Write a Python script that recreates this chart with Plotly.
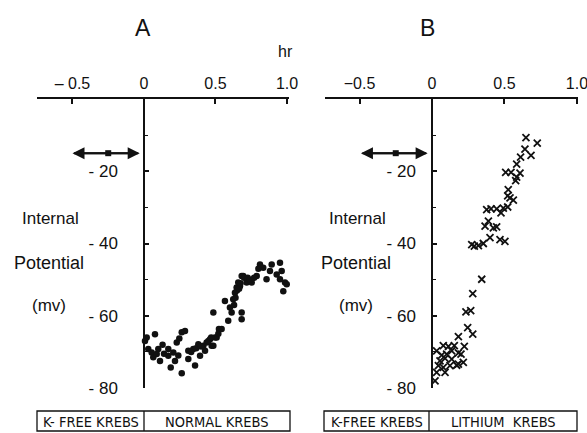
import plotly.graph_objects as go

W, H = 587, 433

# ---------------- data ----------------
a_hr = [0.019, 0.077, 0.007, 0.03, 0.054, 0.065, 0.10, 0.112, 0.089, 0.17, 0.17, 0.187,
        0.205, 0.217, 0.229, 0.247, 0.264, 0.287, 0.264, 0.31, 0.31, 0.345, 0.357, 0.38,
        0.392, 0.415, 0.438, 0.427, 0.462, 0.473, 0.485, 0.508, 0.524, 0.497, 0.52, 0.485,
        0.543, 0.566, 0.589, 0.601, 0.613, 0.624, 0.636, 0.648, 0.671, 0.659, 0.683, 0.694,
        0.683, 0.683, 0.718, 0.753, 0.788, 0.811, 0.834, 0.857, 0.881, 0.893, 0.928, 0.951,
        0.963, 0.951, 0.986, 0.974, 0.998, 0.63, 0.64, 0.65, 0.665, 0.675, 0.70, 0.725,
        0.74, 0.77, 0.80, 0.33, 0.365, 0.40, 0.45, 0.47, 0.14, 0.24, 0.13]
a_mv = [-66.0, -65.1, -67.0, -69.2, -70.2, -71.5, -69.2, -72.5, -70.6, -69.2, -71.1, -74.3,
        -70.2, -72.5, -67.4, -66.3, -64.6, -64.2, -75.9, -69.7, -72.0, -69.2, -73.8, -67.9,
        -71.1, -68.3, -67.4, -69.7, -66.5, -68.3, -59.1, -66.0, -63.7, -66.0, -65.0, -68.3,
        -63.7, -55.9, -61.4, -57.7, -59.1, -55.4, -53.6, -52.2, -51.8, -50.8, -49.0, -49.0,
        -59.1, -61.0, -50.8, -50.8, -49.0, -45.8, -46.7, -49.9, -47.6, -45.8, -48.6, -45.3,
        -47.6, -49.9, -50.8, -53.2, -51.3, -57.0, -55.0, -53.0, -52.5, -51.0, -49.5, -49.5,
        -50.0, -49.5, -47.0, -70.0, -69.0, -68.5, -67.0, -66.0, -70.5, -71.0, -68.0]

b_hr = [0.648, 0.726, 0.641, 0.683, 0.611, 0.584, 0.508, 0.545, 0.607, 0.584, 0.577,
        0.526, 0.522, 0.538, 0.561, 0.522, 0.492, 0.476, 0.446, 0.407, 0.377, 0.389,
        0.366, 0.423, 0.446, 0.40, 0.469, 0.503, 0.354, 0.32, 0.292, 0.274,
        0.343, 0.281, 0.234, 0.267, 0.246, 0.281, 0.182, 0.223, 0.154, 0.113, 0.078,
        0.032, 0.067, 0.101, 0.136, 0.182, 0.20, 0.055, 0.09, 0.136, 0.216, 0.17,
        0.044, 0.078, 0.124, 0.182, 0.032, 0.09, 0.021, 0.062]
b_mv = [-10.7, -12.2, -13.9, -15.6, -16.1, -18.0, -20.3, -20.3, -20.5, -21.6, -22.6,
        -25.1, -26.8, -27.4, -28.0, -29.9, -30.2, -31.5, -30.4, -30.4, -30.6, -33.8,
        -35.2, -35.7, -35.4, -38.4, -38.9, -39.4, -40.0, -40.6, -40.7, -40.3,
        -49.9, -53.9, -58.9, -58.6, -63.3, -65.1, -65.8, -68.5, -68.3, -68.5, -68.3,
        -69.7, -70.9, -70.6, -69.7, -70.3, -70.6, -72.5, -71.8, -72.0, -72.9, -73.7,
        -73.8, -74.3, -73.8, -73.4, -75.7, -75.7, -78.0, -80.3]

# double arrow (K-free period) : start, end, mid (hr) and level (mV)
arrow_a = [-0.50, -0.03, -0.25]
arrow_b = [-0.49, -0.03, -0.25]
arrow_mv = -15

x_ticks = [-0.5, 0, 0.5, 1.0]
x_text_a = ["\u2013 0.5", "0", "0.5", "1.0"]
x_text_b = ["\u22120.5", "0", "0.5", "1.0"]
y_ticks = [-20, -40, -60, -80]
y_text = ["- 20", "- 40", "- 60", "- 80"]

FONT = "Liberation Sans"
NARROW = "DejaVu Sans Condensed, Liberation Sans Narrow, Liberation Sans"
INK = "#111111"


def px(x):
    return x / W


def py(y):
    return 1 - y / H


fig = go.Figure()

fig.add_trace(go.Scatter(x=a_hr, y=a_mv, mode="markers", xaxis="x", yaxis="y",
                         marker=dict(symbol="circle", size=6.5, color=INK),
                         cliponaxis=False, showlegend=False))
fig.add_trace(go.Scatter(x=b_hr, y=b_mv, mode="markers", xaxis="x2", yaxis="y2",
                         marker=dict(symbol="x-thin", size=7, color=INK,
                                     line=dict(width=1.8, color=INK)),
                         cliponaxis=False, showlegend=False))
# arrow mid dots
fig.add_trace(go.Scatter(x=[arrow_a[2]], y=[arrow_mv], mode="markers", xaxis="x", yaxis="y",
                         marker=dict(symbol="square", size=6, color=INK),
                         cliponaxis=False, showlegend=False))
fig.add_trace(go.Scatter(x=[arrow_b[2]], y=[arrow_mv], mode="markers", xaxis="x2", yaxis="y2",
                         marker=dict(symbol="square", size=6, color=INK),
                         cliponaxis=False, showlegend=False))

for xr, yr, arr in (("x", "y", arrow_a), ("x2", "y2", arrow_b)):
    for tip, tail in ((arr[1], arr[0]), (arr[0], arr[1])):
        fig.add_annotation(x=tip, y=arrow_mv, ax=tail, ay=arrow_mv, xref=xr, yref=yr,
                           axref=xr, ayref=yr, text="", showarrow=True, arrowhead=2,
                           arrowsize=1.2, arrowwidth=2, arrowcolor=INK)

ydom = [py(388), py(99)]
common_x = dict(side="top", showline=True, linecolor=INK, linewidth=1.5, ticks="inside",
                ticklen=5, tickwidth=1.5, tickcolor=INK, tickvals=x_ticks, showgrid=False,
                zeroline=False, tickfont=dict(family=FONT, size=16, color=INK),
                ticklabelstandoff=2, automargin=False, ticklabeloverflow="allow")
common_y = dict(range=[-80, 0], domain=ydom, anchor="free", side="left", showline=True,
                linecolor=INK, linewidth=1.5, ticks="inside", ticklen=4, tickwidth=1.5,
                tickcolor=INK, tickvals=y_ticks, ticktext=y_text, showgrid=False,
                zeroline=False, tickfont=dict(family=FONT, size=17, color=INK),
                automargin=False,
                minor=dict(ticks="inside", ticklen=3, tickvals=[-10, -30, -50, -70],
                           tickcolor=INK, tickwidth=1.2))

fig.update_layout(
    width=W, height=H, margin=dict(l=0, r=0, t=0, b=0, autoexpand=False),
    paper_bgcolor="white", plot_bgcolor="white",
    xaxis=dict(domain=[px(37), px(289)], range=[-0.748, 1.014], anchor="y",
               ticktext=x_text_a, **common_x),
    yaxis=dict(position=px(144), ticklabelstandoff=22, **common_y),
    xaxis2=dict(domain=[px(325), px(578)], range=[-0.738, 1.007], anchor="y2",
                ticktext=x_text_b, **common_x),
    yaxis2=dict(position=px(432), ticklabelstandoff=12, **common_y),
)


def label(text, x, y, size=17, xanchor="center", family=FONT):
    fig.add_annotation(text=text, x=px(x), y=py(y), xref="paper", yref="paper",
                       showarrow=False, xanchor=xanchor, yanchor="middle",
                       font=dict(family=family, size=size, color=INK))


label("A", 143, 28, size=23)
label("B", 427, 28, size=23)
label("hr", 285, 52, size=16)
for xl in (20, 327):
    label("Internal", xl, 218, xanchor="left")
    label("Potential", xl - 8, 263, size=18, xanchor="left")
    label("(mv)", xl + 10, 305, xanchor="left")

# bottom solution boxes
for x0, xm, x1, t1, t2 in ((37, 144, 290, "K- FREE KREBS", "NORMAL KREBS"),
                            (324, 429, 577, "K-FREE KREBS", "LITHIUM  KREBS")):
    fig.add_shape(type="rect", xref="paper", yref="paper", x0=px(x0), x1=px(x1),
                  y0=py(431), y1=py(411), line=dict(color=INK, width=1.3))
    fig.add_shape(type="line", xref="paper", yref="paper", x0=px(xm), x1=px(xm),
                  y0=py(431), y1=py(411), line=dict(color=INK, width=1.3))
    label(t1, (x0 + xm) / 2, 422, size=14.5, family=NARROW)
    label(t2, (xm + x1) / 2, 422, size=14.5, family=NARROW)

fig.write_html("out.html", config={"displayModeBar": False},
               post_script="document.body.style.margin='0';document.body.style.overflow='hidden';")
